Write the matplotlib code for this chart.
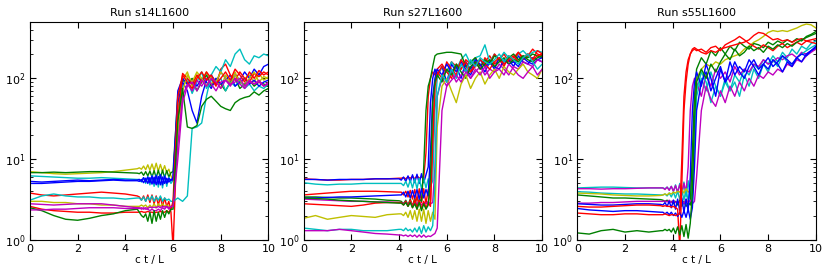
import numpy as np
import matplotlib
matplotlib.use("Agg")
import matplotlib.pyplot as plt

# classic matplotlib colours
cols = {"b": "#0000ff", "g": "#008000", "r": "#ff0000",
        "c": "#00bfbf", "m": "#bf00bf", "y": "#bfbf00"}

titles = ["Run s14L1600", "Run s27L1600", "Run s55L1600"]

# ---- run s14 ----
s14_tbase = [0, 0.5, 1, 1.5, 2, 2.5, 3, 3.5, 4, 4.5]
s14_tpost = [6.0, 6.2, 6.4, 6.6, 6.8, 7.0, 7.2, 7.4, 7.6, 7.8, 8.0, 8.2, 8.4,
             8.6, 8.8, 9.0, 9.2, 9.4, 9.6, 9.8, 10.0]
s14_colors = ["y", "g", "c", "b", "b", "r", "c", "y", "m", "r", "g", "m"]
s14_base = [
    [7.0, 6.8, 6.6, 6.5, 6.6, 6.7, 6.8, 7.0, 7.3, 7.6],
    [6.8, 6.8, 6.9, 6.8, 6.9, 7.0, 7.0, 6.9, 6.8, 6.7],
    [6.2, 6.1, 6.0, 5.9, 5.8, 5.8, 5.9, 5.8, 5.7, 5.6],
    [5.3, 5.2, 5.3, 5.4, 5.5, 5.4, 5.5, 5.6, 5.5, 5.5],
    [5.0, 5.0, 5.1, 5.2, 5.3, 5.3, 5.4, 5.5, 5.4, 5.4],
    [3.8, 3.6, 3.5, 3.6, 3.7, 3.8, 3.9, 3.8, 3.7, 3.5],
    [3.1, 3.5, 3.7, 3.5, 3.4, 3.4, 3.3, 3.3, 3.2, 3.3],
    [3.0, 3.0, 2.9, 2.9, 2.8, 2.8, 2.7, 2.7, 2.6, 2.6],
    [2.8, 2.75, 2.7, 2.75, 2.8, 2.8, 2.8, 2.7, 2.6, 2.5],
    [2.6, 2.4, 2.3, 2.25, 2.2, 2.2, 2.15, 2.15, 2.2, 2.2],
    [2.5, 2.3, 2.0, 1.8, 1.75, 1.85, 2.0, 2.1, 2.3, 2.4],
    [2.35, 2.35, 2.4, 2.4, 2.45, 2.5, 2.5, 2.5, 2.45, 2.45],
]
s14_band = [
    [7.8, 7.5, 8.2, 7.4, 8.5, 7.3, 8.7, 7.2, 8.9, 7.1, 8.6, 7.0, 8.3, 6.8, 7.5, 6.2],
    [6.6, 6.9, 6.3, 7.0, 6.2, 7.1, 6.0, 7.2, 5.9, 7.3, 5.8, 7.3, 5.9, 7.2, 6.0, 6.8],
    [5.6, 5.2, 5.9, 5.0, 6.1, 4.8, 6.3, 4.6, 6.4, 4.5, 6.5, 4.4, 6.4, 4.6, 6.0, 5.0],
    [5.6, 5.3, 5.9, 5.2, 6.0, 5.1, 6.2, 5.0, 6.3, 4.9, 6.4, 4.8, 6.2, 5.0, 5.8, 5.4],
    [5.3, 5.6, 5.1, 5.8, 5.0, 5.9, 4.9, 6.0, 4.8, 6.1, 4.8, 6.0, 5.0, 5.8, 5.2, 5.6],
    [3.4, 3.1, 3.5, 3.0, 3.6, 2.9, 3.6, 2.8, 3.5, 2.7, 3.4, 2.6, 3.3, 2.6, 3.0, 2.2],
    [3.3, 3.1, 3.4, 3.0, 3.4, 3.1, 3.5, 3.0, 3.4, 3.1, 3.5, 3.0, 3.3, 3.1, 3.2, 3.0],
    [2.6, 2.7, 2.6, 2.7, 2.5, 2.7, 2.5, 2.8, 2.5, 2.8, 2.6, 2.8, 2.6, 2.7, 2.6, 2.6],
    [2.5, 2.4, 2.5, 2.4, 2.4, 2.3, 2.4, 2.3, 2.3, 2.4, 2.3, 2.5, 2.4, 2.6, 2.4, 2.5],
    [2.2, 2.25, 2.2, 2.2, 2.25, 2.2, 2.2, 2.15, 2.2, 2.2, 2.25, 2.2, 2.2, 2.3, 2.2, 2.4],
    [2.2, 2.0, 1.9, 2.1, 1.7, 2.2, 1.6, 2.3, 1.7, 2.2, 1.8, 2.3, 1.9, 2.3, 2.1, 2.4],
    [2.45, 2.5, 2.4, 2.5, 2.45, 2.55, 2.5, 2.55, 2.5, 2.6, 2.5, 2.6, 2.55, 2.6, 2.5, 2.6],
]
s14_post = [
    [5.5, 40, 95, 120, 80, 110, 95, 120, 85, 100, 75, 110, 90, 120, 85, 100, 110, 90, 115, 95, 105],
    [7.0, 60, 95, 85, 100, 70, 90, 110, 80, 95, 85, 70, 90, 100, 75, 85, 95, 80, 90, 85, 80],
    [5.5, 30, 80, 100, 65, 90, 120, 75, 95, 85, 100, 70, 90, 80, 95, 75, 85, 70, 80, 75, 85],
    [6.0, 50, 90, 70, 40, 28, 60, 95, 110, 90, 120, 100, 85, 110, 95, 120, 100, 130, 110, 140, 150],
    [5.5, 70, 100, 85, 95, 80, 100, 90, 75, 100, 85, 95, 110, 80, 90, 100, 85, 95, 80, 90, 95],
    [0.8, 30, 115, 100, 85, 110, 90, 120, 100, 80, 130, 150, 110, 95, 120, 100, 90, 115, 105, 120, 110],
    [3.0, 3.3, 3.0, 3.5, 24, 25, 28, 60, 110, 140, 120, 170, 140, 200, 230, 170, 150, 190, 180, 200, 190],
    [2.7, 20, 70, 110, 90, 120, 100, 80, 105, 90, 120, 100, 85, 110, 95, 80, 100, 120, 90, 105, 100],
    [2.6, 15, 60, 85, 70, 95, 80, 100, 85, 70, 90, 95, 80, 100, 85, 75, 90, 85, 95, 80, 90],
    [3.0, 60, 110, 90, 75, 100, 120, 95, 110, 85, 100, 120, 95, 130, 110, 90, 120, 100, 125, 110, 120],
    [2.4, 30, 75, 25, 24, 26, 45, 55, 60, 52, 45, 42, 40, 50, 55, 58, 60, 68, 62, 70, 75],
    [2.6, 10, 50, 80, 90, 70, 95, 80, 100, 90, 75, 95, 85, 90, 100, 80, 95, 85, 90, 80, 85],
]

# ---- run s27 ----
s27_tbase = [0, 0.5, 1, 1.5, 2, 2.5, 3, 3.5, 4.0]
s27_tpost = [5.6, 5.8, 6.0, 6.2, 6.4, 6.6, 6.8, 7.0, 7.2, 7.4, 7.6, 7.8, 8.0,
             8.2, 8.4, 8.6, 8.8, 9.0, 9.2, 9.4, 9.6, 9.8, 10.0]
s27_colors = ["r", "b", "c", "r", "g", "b", "m", "r", "g", "y", "c", "m"]
s27_base = [
    [5.7, 5.6, 5.5, 5.5, 5.6, 5.6, 5.7, 5.7, 5.8],
    [5.6, 5.6, 5.5, 5.6, 5.6, 5.6, 5.7, 5.7, 5.7],
    [5.1, 4.9, 4.8, 4.9, 4.9, 5.0, 5.0, 5.0, 5.0],
    [3.6, 3.7, 3.8, 3.9, 4.0, 4.0, 4.0, 3.95, 3.9],
    [3.4, 3.4, 3.35, 3.3, 3.3, 3.25, 3.2, 3.1, 3.05],
    [3.3, 3.3, 3.35, 3.4, 3.4, 3.45, 3.5, 3.55, 3.6],
    [3.2, 3.15, 3.1, 3.05, 3.0, 3.0, 2.95, 2.95, 2.9],
    [2.8, 2.75, 2.7, 2.65, 2.6, 2.7, 2.85, 2.9, 2.9],
    [3.3, 3.25, 3.2, 3.1, 3.05, 3.0, 2.95, 2.9, 2.85],
    [1.85, 2.0, 1.8, 1.9, 2.0, 1.95, 1.9, 2.05, 2.1],
    [1.4, 1.35, 1.3, 1.35, 1.35, 1.3, 1.3, 1.3, 1.35],
    [1.3, 1.3, 1.3, 1.35, 1.3, 1.25, 1.2, 1.18, 1.15],
]
s27_band = [
    [5.8, 5.9, 5.7, 6.0, 5.8, 6.1, 5.7, 6.2, 5.8, 6.0, 5.9, 12, 60, 100, 120, 110],
    [5.5, 6.0, 5.3, 6.2, 5.2, 6.4, 5.1, 6.5, 5.0, 6.6, 5.1, 6.4, 8, 50, 100, 130],
    [5.0, 4.7, 5.3, 4.5, 5.5, 4.4, 5.7, 4.3, 5.8, 4.3, 5.8, 4.4, 5.7, 4.6, 5.4, 40],
    [3.9, 3.6, 4.0, 3.4, 4.1, 3.2, 4.2, 3.0, 4.3, 2.9, 4.3, 2.8, 4.2, 3.0, 20, 90],
    [3.0, 2.8, 3.1, 2.7, 3.2, 2.6, 3.3, 2.5, 3.2, 3.0, 8, 40, 80, 100, 140, 190],
    [3.6, 3.9, 3.4, 4.0, 3.3, 4.1, 3.3, 4.2, 3.2, 4.3, 3.3, 4.2, 3.5, 12, 60, 100],
    [2.9, 2.8, 3.0, 2.7, 3.0, 2.7, 2.9, 2.8, 3.0, 2.7, 2.9, 2.8, 3.0, 2.8, 2.9, 8],
    [2.9, 2.7, 3.0, 2.6, 3.1, 2.5, 3.2, 2.4, 3.1, 2.4, 3.0, 2.5, 2.9, 2.6, 15, 80],
    [2.85, 2.7, 2.9, 2.6, 2.9, 2.5, 2.8, 2.4, 2.9, 2.3, 2.8, 2.4, 2.7, 6, 50, 90],
    [2.1, 2.0, 2.2, 1.9, 2.3, 1.8, 2.3, 1.7, 2.4, 1.7, 2.4, 1.6, 2.3, 1.7, 2.2, 1.8],
    [1.35, 1.3, 1.4, 1.3, 1.35, 1.25, 1.4, 1.25, 1.45, 1.2, 1.5, 1.25, 1.45, 1.3, 1.5, 5],
    [1.15, 1.12, 1.15, 1.1, 1.15, 1.1, 1.15, 1.08, 1.15, 1.08, 1.15, 1.08, 1.12, 1.1, 1.15, 1.2],
]
s27_post = [
    [130, 150, 120, 160, 140, 130, 170, 150, 180, 140, 160, 190, 150, 170, 200, 160, 180, 210, 170, 190, 230, 200, 190],
    [110, 140, 90, 150, 120, 160, 130, 110, 150, 170, 140, 160, 130, 180, 150, 170, 140, 190, 160, 150, 180, 170, 160],
    [100, 140, 120, 160, 130, 170, 200, 150, 180, 190, 260, 160, 200, 170, 210, 180, 160, 200, 220, 190, 210, 220, 210],
    [120, 100, 160, 130, 110, 170, 140, 120, 160, 130, 180, 150, 200, 170, 140, 190, 160, 210, 180, 200, 170, 220, 200],
    [200, 205, 210, 210, 205, 200, 140, 160, 180, 140, 170, 150, 190, 170, 160, 180, 200, 170, 190, 180, 200, 190, 180],
    [130, 110, 150, 120, 140, 100, 160, 130, 170, 150, 120, 160, 140, 130, 170, 150, 160, 140, 180, 160, 150, 170, 180],
    [60, 100, 80, 120, 90, 110, 130, 100, 120, 140, 110, 130, 120, 150, 130, 110, 140, 130, 160, 150, 140, 170, 160],
    [110, 140, 120, 100, 150, 130, 160, 120, 140, 170, 150, 130, 160, 180, 150, 170, 190, 160, 180, 200, 170, 190, 200],
    [110, 90, 130, 110, 150, 120, 100, 140, 160, 130, 150, 170, 140, 160, 180, 150, 170, 160, 190, 170, 160, 180, 190],
    [25, 80, 100, 70, 50, 85, 110, 75, 100, 120, 85, 110, 130, 100, 140, 120, 110, 130, 150, 120, 110, 100, 130],
    [60, 110, 90, 130, 100, 150, 120, 170, 140, 180, 160, 150, 170, 200, 160, 190, 170, 150, 180, 200, 160, 130, 150],
    [1.4, 40, 80, 95, 110, 90, 120, 100, 130, 110, 140, 100, 120, 130, 110, 150, 130, 110, 100, 120, 140, 110, 130],
]

# ---- run s55 ----
s55_tbase = [0, 0.5, 1, 1.5, 2, 2.5, 3, 3.5]
s55_tpost = [5.0, 5.2, 5.4, 5.6, 5.8, 6.0, 6.2, 6.4, 6.6, 6.8, 7.0, 7.2, 7.4,
             7.6, 7.8, 8.0, 8.2, 8.4, 8.6, 8.8, 9.0, 9.2, 9.4, 9.6, 9.8, 10.0]
s55_colors = ["c", "m", "c", "y", "g", "m", "b", "r", "b", "r", "g"]
s55_base = [
    [4.4, 4.45, 4.5, 4.5, 4.45, 4.4, 4.4, 4.4],
    [4.3, 4.3, 4.25, 4.3, 4.3, 4.35, 4.4, 4.4],
    [3.95, 3.9, 3.8, 3.75, 3.7, 3.7, 3.65, 3.6],
    [3.8, 3.75, 3.7, 3.6, 3.55, 3.5, 3.5, 3.55],
    [3.6, 3.5, 3.4, 3.3, 3.3, 3.25, 3.2, 3.15],
    [2.85, 2.85, 2.9, 2.9, 2.95, 3.0, 3.0, 3.0],
    [2.8, 2.75, 2.7, 2.7, 2.75, 2.8, 2.8, 2.75],
    [2.6, 2.55, 2.55, 2.6, 2.65, 2.7, 2.7, 2.65],
    [2.45, 2.35, 2.3, 2.25, 2.3, 2.3, 2.25, 2.2],
    [2.15, 2.1, 2.05, 2.05, 2.1, 2.1, 2.05, 2.05],
    [1.22, 1.18, 1.3, 1.35, 1.25, 1.3, 1.25, 1.3],
]
s55_band = [
    [4.4, 4.3, 4.5, 4.2, 4.6, 4.0, 4.8, 3.8, 5.0, 3.6, 5.2, 3.4, 5.4, 3.3, 5.5, 20],
    [4.4, 4.2, 4.5, 4.1, 4.6, 4.0, 4.7, 3.9, 4.8, 3.8, 5.0, 3.9, 8, 40, 80, 100],
    [3.6, 3.7, 3.5, 3.8, 3.4, 3.9, 3.3, 4.0, 3.2, 4.2, 3.1, 4.3, 3.0, 4.4, 3.2, 15],
    [3.6, 3.7, 3.6, 3.8, 3.7, 3.9, 3.8, 4.0, 3.9, 4.2, 3.8, 4.3, 3.9, 4.1, 10, 50],
    [3.1, 3.0, 3.1, 2.9, 3.0, 2.8, 3.0, 2.7, 3.1, 2.6, 3.0, 2.6, 2.9, 2.7, 12, 60],
    [3.0, 3.05, 2.95, 3.1, 2.9, 3.1, 2.9, 3.0, 2.9, 3.1, 2.8, 3.2, 2.9, 3.1, 2.8, 3.0],
    [2.7, 2.9, 2.6, 3.0, 2.5, 3.1, 2.4, 3.2, 2.3, 3.3, 2.2, 3.2, 2.3, 6, 40, 90],
    [2.6, 2.65, 2.6, 2.6, 2.55, 2.6, 2.5, 2.4, 0.8, 5, 40, 90, 150, 200, 230, 240],
    [2.2, 2.1, 2.2, 2.05, 2.2, 2.0, 2.15, 1.95, 2.2, 1.9, 2.3, 1.9, 2.4, 1.8, 2.5, 8],
    [2.05, 2.1, 2.05, 2.0, 2.05, 2.05, 2.0, 2.05, 2.1, 10, 60, 120, 170, 200, 220, 230],
    [1.3, 1.35, 1.3, 1.35, 1.25, 1.4, 1.2, 1.45, 1.15, 1.5, 1.1, 1.55, 1.05, 1.6, 4, 30],
]
s55_post = [
    [60, 100, 70, 120, 80, 60, 90, 70, 110, 90, 130, 110, 150, 130, 170, 150, 190, 160, 210, 180, 230, 200, 250, 230, 270, 290],
    [90, 60, 110, 80, 130, 100, 120, 90, 140, 110, 130, 120, 150, 140, 170, 150, 160, 180, 170, 190, 200, 180, 210, 200, 220, 230],
    [70, 120, 90, 50, 80, 60, 100, 70, 90, 60, 110, 80, 130, 100, 150, 120, 170, 140, 190, 160, 150, 180, 200, 220, 240, 260],
    [100, 130, 150, 140, 160, 150, 170, 180, 190, 200, 230, 250, 280, 300, 330, 370, 390, 380, 390, 380, 400, 420, 450, 470, 460, 420],
    [130, 180, 150, 220, 190, 240, 200, 250, 220, 280, 250, 230, 270, 260, 240, 280, 260, 290, 270, 300, 280, 310, 290, 330, 350, 380],
    [6, 40, 80, 55, 45, 70, 50, 80, 60, 90, 70, 100, 80, 110, 100, 120, 110, 130, 120, 150, 140, 170, 160, 190, 210, 230],
    [120, 80, 150, 100, 60, 130, 90, 160, 110, 140, 120, 170, 140, 110, 150, 130, 170, 150, 120, 160, 140, 180, 160, 200, 220, 250],
    [230, 210, 200, 220, 210, 230, 240, 250, 260, 270, 280, 300, 340, 370, 360, 330, 300, 310, 290, 300, 280, 300, 310, 290, 300, 310],
    [40, 90, 120, 70, 100, 140, 90, 110, 160, 120, 100, 140, 170, 130, 150, 180, 140, 160, 190, 170, 150, 180, 200, 190, 220, 240],
    [220, 230, 210, 240, 250, 220, 260, 280, 300, 330, 300, 270, 250, 230, 260, 240, 220, 250, 270, 240, 260, 280, 260, 290, 280, 270],
    [90, 130, 100, 150, 120, 160, 200, 170, 230, 190, 210, 250, 220, 240, 210, 250, 230, 260, 240, 270, 250, 280, 300, 320, 340, 360],
]

runs = [
    (s14_tbase, s14_tpost, s14_colors, s14_base, s14_band, s14_post),
    (s27_tbase, s27_tpost, s27_colors, s27_base, s27_band, s27_post),
    (s55_tbase, s55_tpost, s55_colors, s55_base, s55_band, s55_post),
]

plt.rcParams['font.family'] = ['DejaVu Sans']
fig, axes = plt.subplots(1, 3, figsize=(8.3, 2.77), dpi=100)
fig.subplots_adjust(left=0.036, right=0.983, bottom=0.134, top=0.921, wspace=0.147)

for ax, title, (tb, tp, cl, base, band, post) in zip(axes, titles, runs):
    for c, yb, yz, yp in zip(cl, base, band, post):
        # band samples sit evenly between the last slow sample and the first fast one
        tz = np.linspace(tb[-1], tp[0], len(yz) + 2)[1:-1]
        t = np.concatenate([tb, tz, tp])
        y = np.concatenate([yb, yz, yp])
        ax.plot(t, y, color=cols[c], lw=1.0)
    ax.set_yscale('log')
    ax.set_xlim(0, 10)
    ax.set_ylim(1, 500)
    ax.set_xticks([0, 2, 4, 6, 8, 10])
    ax.tick_params(which='both', direction='in', top=True, right=True, labelsize=8, pad=3)
    ax.tick_params(which='major', length=4)
    ax.tick_params(which='minor', length=2)
    ax.set_title(title, fontsize=8, pad=4)
    ax.set_xlabel('c t / L', fontsize=7.5, labelpad=1)

fig.savefig('out.png', dpi=100)
